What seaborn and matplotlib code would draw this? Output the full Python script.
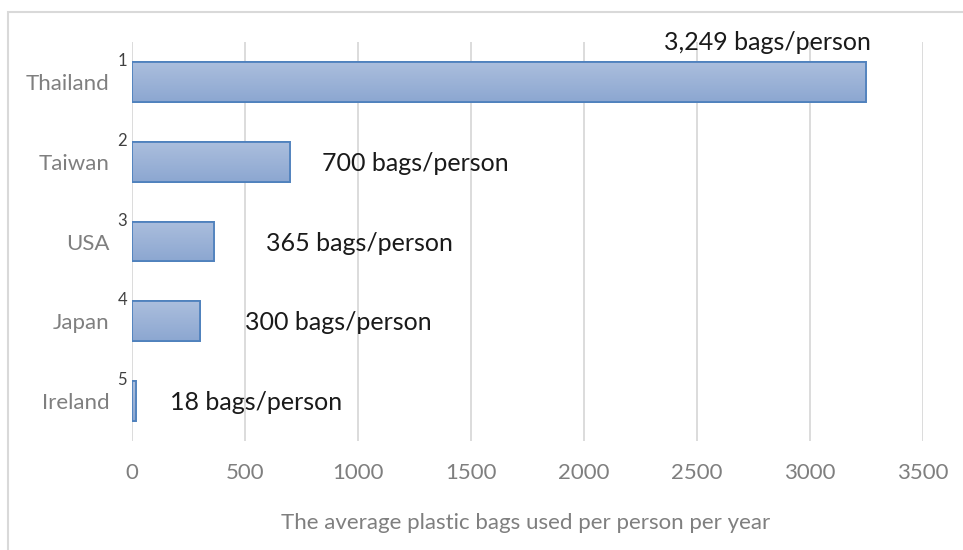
import numpy as np
import pandas as pd
import matplotlib
matplotlib.use("Agg")
import matplotlib.pyplot as plt
from matplotlib.patches import Rectangle
import seaborn as sns

# Plastic bag use per person per year
countries = ["Thailand", "Taiwan", "USA", "Japan", "Ireland"]
ranks = ["1", "2", "3", "4", "5"]
bags = [3249, 700, 365, 300, 18]
value_labels = ["3,249 bags/person", "700 bags/person", "365 bags/person",
                "300 bags/person", "18 bags/person"]
x_ticks = [0, 500, 1000, 1500, 2000, 2500, 3000, 3500]

df = pd.DataFrame({"country": countries, "bags": bags})

sns.set_theme(style="white")
plt.rcParams["font.family"] = ["Lato", "DejaVu Sans"]

fig = plt.figure(figsize=(9.63, 5.5), dpi=100)
ax = fig.add_axes([132 / 963, 1 - 441 / 550, (923 - 132) / 963, (441 - 42) / 550])

sns.barplot(data=df, x="bags", y="country", order=countries, orient="h",
            width=0.5, color="#9CB2D8", edgecolor="#4F81BD", linewidth=1.3,
            ax=ax, zorder=3)

# soft vertical gradient inside each bar
grad = np.linspace(0, 1, 64).reshape(-1, 1)
cmap = matplotlib.colors.LinearSegmentedColormap.from_list(
    "bar", ["#ABBEDD", "#8CA7D1"])
for p in list(ax.patches):
    x0, y0 = p.get_x(), p.get_y()
    w, h = p.get_width(), p.get_height()
    im = ax.imshow(grad, cmap=cmap, aspect="auto", zorder=3.5,
                   extent=(x0, x0 + w, y0 + h, y0), interpolation="bilinear")
    im.set_clip_path(p)
    edge = Rectangle((x0, y0), w, h, fill=False, edgecolor="#4F81BD",
                     linewidth=1.3, zorder=4)
    ax.add_patch(edge)

ax.set_xlim(0, 3500)
ax.set_ylim(4.5, -0.5)
ax.set_xticks(x_ticks)
ax.set_xticklabels([str(t) for t in x_ticks])
ax.grid(axis="x", color="#D9D9D9", linewidth=1.3, zorder=0)
ax.grid(axis="y", visible=False)
for s in ax.spines.values():
    s.set_visible(False)
ax.tick_params(axis="x", length=0, pad=16, labelsize=16, labelcolor="#7F7F7F")
ax.tick_params(axis="y", length=0, pad=16, labelsize=16, labelcolor="#7F7F7F")
for t in ax.get_yticklabels():
    t.set_va("center_baseline")
ax.set_ylabel("")
ax.set_xlabel("The average plastic bags used per person per year",
              fontsize=16, color="#7F7F7F")
ax.xaxis.set_label_coords(0.497, -0.2055)
ax.xaxis.label.set_va("center")

# rank markers beside the country names
for i, r in enumerate(ranks):
    ax.annotate(r, xy=(0, i), xycoords="data", xytext=(-7, 15),
                textcoords="offset points", ha="center", va="center",
                fontsize=12, color="#404040")

# value labels
label_x = [2810, 841, 593, 500, 168]
for i, (lab, lx) in enumerate(zip(value_labels, label_x)):
    if i == 0:
        ax.text(lx, i - 0.49, lab, ha="center", va="center", fontsize=18,
                color="#1A1A1A", zorder=6)
    else:
        ax.text(lx, i + 0.02, lab, ha="left", va="center", fontsize=18,
                color="#1A1A1A", zorder=6)

# chart frame
fig.patches.append(Rectangle((8 / 963, -0.1), 1.2, 1 - 12 / 550 + 0.1,
                             transform=fig.transFigure, fill=False,
                             edgecolor="#D9D9D9", linewidth=1.5))

fig.savefig("out.png", dpi=100, facecolor="white")
